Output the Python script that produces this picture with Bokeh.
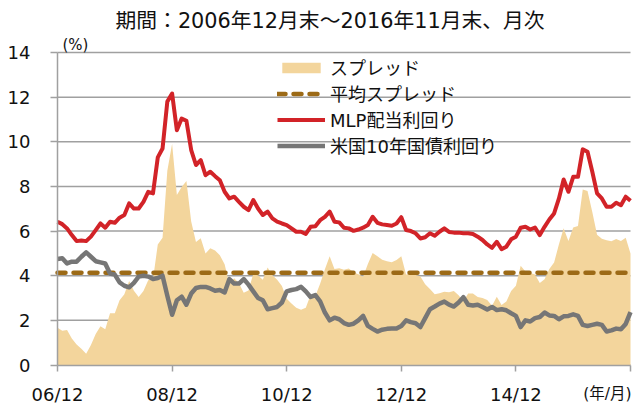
from bokeh.plotting import figure
from bokeh.models import Range1d, FixedTicker, Legend, LegendItem, Label, ColumnDataSource
from bokeh.embed import file_html
from bokeh.resources import INLINE

# ---------------- data ----------------
months = list(range(121))

mlp_yield = [
    6.42, 6.31, 6.12, 5.82, 5.55, 5.58, 5.55, 5.75, 6.04, 6.34,
    6.15, 6.42, 6.37, 6.60, 6.72, 7.24, 7.01, 7.01, 7.31, 7.76,
    7.69, 9.30, 9.70, 11.80, 12.16, 10.52, 11.04, 10.94, 9.63, 8.96,
    9.18, 8.50, 8.66, 8.46, 8.28, 7.76, 7.46, 7.54, 7.31, 7.09,
    6.94, 7.39, 7.01, 6.72, 6.87, 6.57, 6.42, 6.34, 6.27, 6.12,
    5.97, 5.97, 5.87, 6.19, 6.22, 6.49, 6.64, 6.87, 6.42, 6.39,
    6.15, 6.12, 6.01, 6.07, 6.15, 6.27, 6.64, 6.37, 6.30, 6.27,
    6.24, 6.34, 6.62, 6.05, 6.00, 5.90, 5.67, 5.72, 5.90, 5.79,
    5.97, 6.12, 5.96, 5.93, 5.93, 5.90, 5.90, 5.87, 5.75, 5.60,
    5.40, 5.25, 5.52, 5.19, 5.30, 5.63, 5.75, 6.15, 6.19, 6.07,
    6.16, 5.82, 6.19, 6.52, 6.79, 7.45, 8.31, 7.76, 8.43, 8.43,
    9.66, 9.55, 8.66, 7.69, 7.46, 7.09, 7.09, 7.27, 7.16, 7.54,
    7.36,
]

ust10_yield = [
    4.75, 4.78, 4.55, 4.63, 4.63, 4.85, 5.05, 4.85, 4.65, 4.60,
    4.55, 4.10, 4.05, 3.70, 3.55, 3.48, 3.68, 3.96, 4.00, 3.96,
    3.85, 3.90, 4.00, 3.10, 2.25, 2.90, 3.06, 2.70, 3.20, 3.45,
    3.50, 3.50, 3.43, 3.33, 3.36, 3.25, 3.85, 3.65, 3.65, 3.85,
    3.60, 3.30, 3.00, 2.90, 2.50, 2.55, 2.60, 2.80, 3.30, 3.36,
    3.40, 3.50, 3.30, 3.05, 3.13, 2.85, 2.35, 2.00, 2.12, 2.05,
    1.88, 1.80, 1.85, 2.00, 2.20, 1.75, 1.62, 1.50, 1.58, 1.62,
    1.64, 1.64, 1.75, 2.00, 1.92, 1.87, 1.70, 2.10, 2.50, 2.62,
    2.75, 2.84, 2.70, 2.62, 2.80, 3.04, 2.70, 2.67, 2.70, 2.60,
    2.49, 2.60, 2.46, 2.50, 2.45, 2.32, 2.20, 1.70, 2.00, 1.95,
    2.10, 2.15, 2.35, 2.22, 2.20, 2.05, 2.18, 2.20, 2.27, 2.20,
    1.80, 1.75, 1.80, 1.85, 1.80, 1.50, 1.55, 1.63, 1.60, 1.84,
    2.37,
]

spread = [
    1.67, 1.53, 1.57, 1.19, 0.92, 0.73, 0.50, 0.90, 1.39, 1.74,
    1.60, 2.32, 2.32, 2.90, 3.17, 3.76, 3.33, 3.05, 3.31, 3.80,
    3.84, 5.40, 5.70, 8.70, 9.91, 7.62, 7.98, 8.24, 6.43, 5.51,
    5.68, 5.00, 5.23, 5.13, 4.92, 4.51, 3.61, 3.89, 3.66, 3.24,
    3.34, 4.09, 4.01, 3.82, 4.37, 4.02, 3.82, 3.54, 2.97, 2.76,
    2.57, 2.47, 2.57, 3.14, 3.09, 3.64, 4.29, 4.87, 4.30, 4.34,
    4.27, 4.32, 4.16, 4.07, 3.95, 4.52, 5.02, 4.87, 4.72, 4.65,
    4.60, 4.70, 4.87, 4.05, 4.08, 4.03, 3.97, 3.62, 3.40, 3.17,
    3.22, 3.28, 3.26, 3.31, 3.13, 2.86, 3.20, 3.20, 3.05, 3.00,
    2.91, 2.65, 3.06, 2.69, 2.85, 3.31, 3.55, 4.45, 4.19, 4.12,
    4.06, 3.67, 3.84, 4.30, 4.59, 5.40, 6.13, 5.56, 6.16, 6.23,
    7.86, 7.80, 6.86, 5.84, 5.66, 5.59, 5.54, 5.64, 5.56, 5.70,
    4.99,
]

avg_spread = 4.13

tick_positions = [0, 24, 48, 72, 96, 120]
tick_labels = ["06/12", "08/12", "10/12", "12/12", "14/12", ""]
y_ticks = [0, 2, 4, 6, 8, 10, 12, 14]

title_text = "期間：2006年12月末～2016年11月末、月次"
series_names = ["スプレッド", "平均スプレッド", "MLP配当利回り", "米国10年国債利回り"]
y_unit = "(%)"
x_unit = "(年/月)"

# ---------------- styling ----------------
FONT = "DejaVu Sans, Noto Sans CJK JP"
NUM_FONT = "DejaVu Sans"
C_SPREAD = "#F3D59C"
C_AVG = "#9C6A16"
C_MLP = "#D22328"
C_UST = "#767676"
C_GRID = "#A0A0A0"
C_TEXT = "#111111"

W, H = 640, 404
# the frame fills the whole canvas; axes are pinned at x=0 / y=0
PX_LEFT, PX_RIGHT = 57.0, 630.0      # pixel position of month 0 and month 120
PX_Y0, PX_Y14 = 364.5, 52.0          # pixel position of 0% and 14%
sx = (PX_RIGHT - PX_LEFT) / (months[-1] - months[0])
sy = (PX_Y0 - PX_Y14) / (y_ticks[-1] - y_ticks[0])
x_range = Range1d(months[0] - PX_LEFT / sx, months[0] + (W - PX_LEFT) / sx)
y_range = Range1d(-(H - PX_Y0) / sy, PX_Y0 / sy)

src = ColumnDataSource(dict(
    x=months,
    mlp=mlp_yield,
    ust=ust10_yield,
    spread=spread,
    zero=[0] * len(months),
    avg=[avg_spread] * len(months),
))

p = figure(
    width=W, height=H,
    x_range=x_range, y_range=y_range,
    output_backend="svg", toolbar_location=None,
    min_border_left=0, min_border_right=0, min_border_bottom=0, min_border_top=0,
)
p.outline_line_color = None
p.background_fill_color = "white"
p.border_fill_color = "white"
p.xgrid.visible = False
p.ygrid.visible = False

# horizontal gridlines (behind the series)
p.segment(x0=[months[0]] * len(y_ticks), x1=[months[-1]] * len(y_ticks),
          y0=y_ticks, y1=y_ticks, line_color=C_GRID, line_width=1.5)

r_spread = p.varea(x="x", y1="zero", y2="spread", source=src, fill_color=C_SPREAD, fill_alpha=1.0)
r_avg = p.line(x="x", y="avg", source=src, line_color=C_AVG, line_width=4.5,
               line_dash="8 8", line_cap="round")
r_mlp = p.line(x="x", y="mlp", source=src, line_color=C_MLP, line_width=4, line_join="round")
r_ust = p.line(x="x", y="ust", source=src, line_color=C_UST, line_width=4.5, line_join="round")

# axes pinned inside the frame
p.xaxis.fixed_location = 0
p.yaxis.fixed_location = 0
p.xaxis.bounds = (months[0], months[-1])
p.yaxis.bounds = (y_ticks[0], y_ticks[-1])
p.xaxis.ticker = FixedTicker(ticks=tick_positions)
p.xaxis.major_label_overrides = {t: l for t, l in zip(tick_positions, tick_labels)}
p.yaxis.ticker = FixedTicker(ticks=y_ticks)
p.xaxis.minor_tick_line_color = None
p.yaxis.minor_tick_line_color = None
for ax in (p.xaxis, p.yaxis):
    ax.axis_line_color = C_GRID
    ax.axis_line_width = 1.5
    ax.major_tick_line_color = C_GRID
    ax.major_tick_line_width = 1.5
    ax.major_tick_in = 0
    ax.major_label_text_font = NUM_FONT
    ax.major_label_text_font_size = "18px"
    ax.major_label_text_color = C_TEXT
p.xaxis.major_tick_out = 6
p.xaxis.major_label_standoff = 13
p.yaxis.major_tick_out = 7
p.yaxis.major_label_standoff = 20

# texts
p.add_layout(Label(x=months[0], y=y_ticks[-1], x_offset=58, y_offset=31.5, text=title_text,
                   text_font=FONT, text_font_size="20.8px", text_color=C_TEXT,
                   text_baseline="middle", text_align="left"))
p.add_layout(Label(x=months[0], y=y_ticks[-1], x_offset=5, y_offset=8, text=y_unit,
                   text_font=FONT, text_font_size="15px", text_color=C_TEXT,
                   text_baseline="middle"))
p.add_layout(Label(x=months[-1], y=y_ticks[0], x_offset=1, y_offset=-28.5, text=x_unit,
                   text_font=FONT, text_font_size="15.5px", text_color=C_TEXT,
                   text_align="right", text_baseline="middle"))

legend = Legend(
    items=[
        LegendItem(label=series_names[0], renderers=[r_spread]),
        LegendItem(label=series_names[1], renderers=[r_avg]),
        LegendItem(label=series_names[2], renderers=[r_mlp]),
        LegendItem(label=series_names[3], renderers=[r_ust]),
    ],
    location=(277, 246),
    background_fill_alpha=0.0,
    border_line_color=None,
    padding=0, margin=0, spacing=0,
    glyph_width=48, glyph_height=13, label_height=20,
    label_standoff=5,
    label_text_font=FONT, label_text_font_size="18px", label_text_color=C_TEXT,
)
p.add_layout(legend, "center")

open("out.html", "w").write(file_html(p, INLINE))
